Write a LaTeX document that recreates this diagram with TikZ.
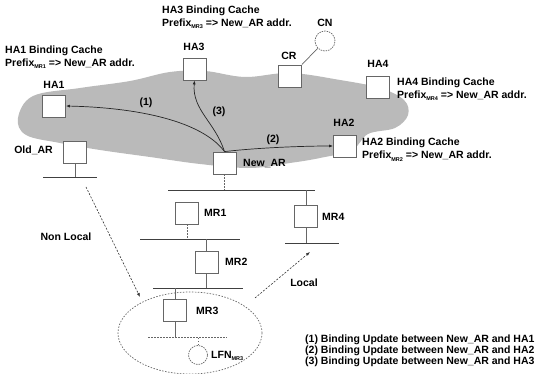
\documentclass[tikz,border=0pt]{standalone}
\usepackage{fontspec}
\setmainfont{Liberation Sans}
\usetikzlibrary{arrows.meta}
\newcommand{\lowsub}[1]{\raisebox{-0.45ex}{\fontsize{5.5}{5.5}\selectfont #1}}
\newcommand{\pfx}[1]{Prefix\lowsub{#1}}
\begin{document}
\begin{tikzpicture}[x=1pt,y=-1pt,
  box/.style={draw=black!60, fill=white, line width=0.8pt, minimum width=23pt, minimum height=22pt, inner sep=0pt},
  lbl/.style={font=\bfseries\fontsize{10.5}{13}\selectfont, inner sep=0pt, align=left},
  leg/.style={font=\bfseries\fontsize{10.5}{11.2}\selectfont, inner sep=0pt, align=left},
  net/.style={draw=black!75, line width=0.7pt},
  stem/.style={draw=black!60, line width=0.7pt},
  dstem/.style={draw=black!60, line width=0.7pt, dash pattern=on 1.5pt off 1.5pt},
  bu/.style={draw=black!85, line width=0.7pt, -{Latex[length=4pt,width=3pt]}},
  mv/.style={draw=black!80, line width=0.6pt, dash pattern=on 2pt off 1.5pt, -{Latex[length=4pt,width=3pt]}}]
\useasboundingbox (0,0) rectangle (542,374);
% cloud
\fill[black!27] plot[smooth cycle, tension=0.6] coordinates {
  (18,118) (33,96) (80,88) (130,81) (170,72) (205,71) (245,77) (290,73)
  (340,80) (380,88) (404,100) (408,115) (395,128) (368,134) (352,150)
  (320,158) (290,163) (250,168) (200,164) (150,157) (100,150) (60,143) (26,135)};
% nodes
\node[box] (ha1) at (54,106) {};
\node[lbl] (ha1l) at (54,85) {HA1};
\node[lbl, anchor=west] (ha1c) at (5,57) {HA1 Binding Cache\\\pfx{MR1} => New\_AR addr.};
\node[box] (ha3) at (194.5,69) {};
\node[lbl] (ha3l) at (194,47) {HA3};
\node[lbl, anchor=west] (ha3c) at (162,17) {HA3 Binding Cache\\\pfx{MR3} => New\_AR addr.};
\node[circle, draw=black!60, line width=0.7pt, dash pattern=on 1.5pt off 1pt, minimum size=20pt, inner sep=0pt] (cn) at (325,41) {};
\node[lbl] (cnl) at (325,23) {CN};
\node[box] (cr) at (290,76) {};
\node[lbl] (crl) at (289,56) {CR};
\draw[stem] (cr.north east) -- (cn.225);
\node[box] (ha4) at (378,87.5) {};
\node[lbl] (ha4l) at (378,64) {HA4};
\node[lbl, anchor=west] (ha4c) at (397,89) {HA4 Binding Cache\\\pfx{MR4} => New\_AR addr.};
\node[box] (ha2) at (345,146) {};
\node[lbl] (ha2l) at (344,123) {HA2};
\node[lbl, anchor=west] (ha2c) at (362,149.5) {HA2 Binding Cache\\\pfx{MR2} => New\_AR addr.};
\node[box] (nar) at (224.5,163) {};
\node[lbl, anchor=west] (narl) at (243,164) {New\_AR};
\node[box] (oar) at (75,152.5) {};
\node[lbl, anchor=east] (oarl) at (53,150) {Old\_AR};
% networks
\coordinate (o1) at (43,177); \coordinate (o2) at (97,177);
\draw[net] (o1) -- (o2);
\draw[stem] (oar.south) -- (oar.south |- o1);
\coordinate (n1) at (168,190); \coordinate (n2) at (315,190);
\draw[net] (n1) -- (n2);
\draw[dstem] (nar.south) -- (nar.south |- n1);
\node[box] (mr1) at (187,213) {};
\node[lbl, anchor=west] (mr1l) at (204,213) {MR1};
\coordinate (a1) at (140,239); \coordinate (a2) at (240,239);
\draw[net] (a1) -- (a2);
\draw[dstem] (mr1.south) -- (mr1.south |- a1);
\node[box] (mr2) at (206.5,262.5) {};
\node[lbl, anchor=west] (mr2l) at (225,262) {MR2};
\draw[stem] (mr2.north) -- (mr2.north |- a1);
\coordinate (b1) at (153,288); \coordinate (b2) at (243,288);
\draw[net] (b1) -- (b2);
\draw[stem] (mr2.south) -- (mr2.south |- b1);
\node[box] (mr3) at (175,310) {};
\node[lbl, anchor=west] (mr3l) at (196,311) {MR3};
\draw[stem] (mr3.north) -- (mr3.north |- b1);
\coordinate (c1) at (148,337); \coordinate (c2) at (227,337);
\draw[dstem] (c1) -- (c2);
\draw[stem] (mr3.south) -- (mr3.south |- c1);
\node[circle, draw=black!60, line width=0.7pt, dash pattern=on 1.5pt off 1pt, minimum size=19pt, inner sep=0pt] (lfn) at (198,355) {};
\draw[dstem] (lfn.north) -- (lfn.north |- c1);
\node[lbl, anchor=west] (lfnl) at (211,356) {LFN\lowsub{MR3}};
\node[box] (mr4) at (306,216) {};
\node[lbl, anchor=west] (mr4l) at (322,217) {MR4};
\draw[stem] (mr4.north) -- (mr4.north |- n1);
\coordinate (d1) at (285,243); \coordinate (d2) at (339,243);
\draw[net] (d1) -- (d2);
\draw[stem] (mr4.south) -- (mr4.south |- d1);
% moving network area
\draw[black!60, line width=0.7pt, dash pattern=on 1.5pt off 1.5pt] (190,333) ellipse [x radius=72, y radius=41];
% binding updates
\draw[bu] (nar.north) .. controls (205,125) and (150,108) .. (ha1.east);
\draw[bu] (nar.north) .. controls (215,122) and (192,110) .. (ha3.south);
\draw[bu] (nar.north) .. controls (255,148) and (300,146) .. (ha2.west);
\node[lbl] (b1l) at (146,103) {(1)};
\node[lbl] (b2l) at (273,140) {(2)};
\node[lbl] (b3l) at (219,112) {(3)};
% movement
\coordinate (nlS) at (86,187); \coordinate (nlE) at (140,297);
\draw[mv] (nlS) -- (nlE);
\node[lbl] (nll) at (66,237) {Non Local};
\coordinate (lS) at (255,298); \coordinate (lE) at (310,252);
\draw[mv] (lS) -- (lE);
\node[lbl] (ll) at (304,283) {Local};
% legend
\node[leg, anchor=west] (legend) at (305,351) {(1) Binding Update between New\_AR and HA1\\(2) Binding Update between New\_AR and HA2\\(3) Binding Update between New\_AR and HA3};
\end{tikzpicture}
\end{document}
